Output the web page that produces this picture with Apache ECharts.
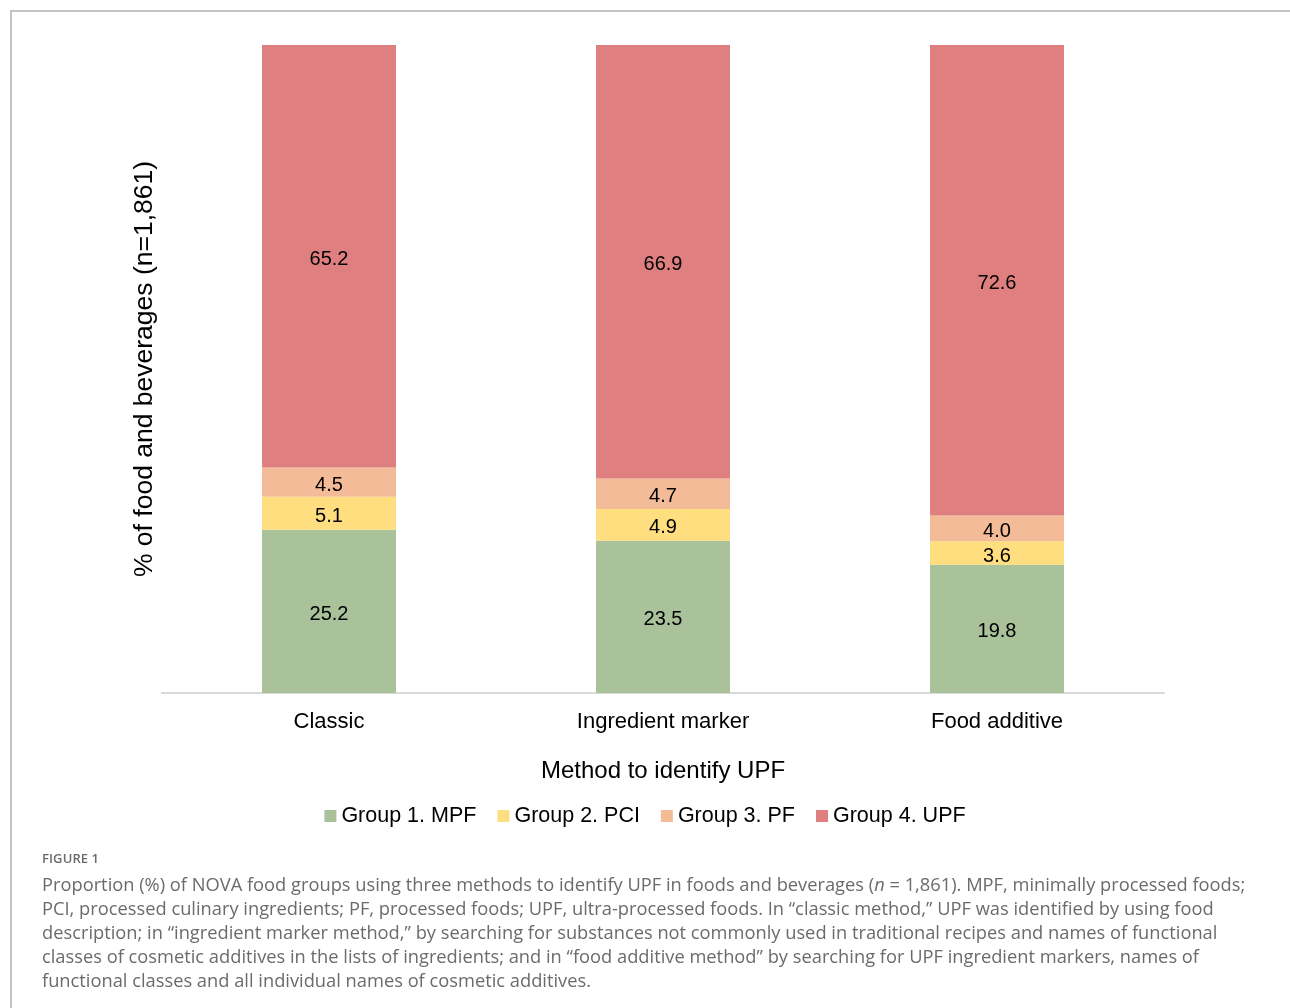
<!DOCTYPE html>
<html>
<head>
<meta charset="utf-8">
<script src="https://cdn.jsdelivr.net/npm/echarts@6/dist/echarts.min.js"></script>
<style>
  html, body { margin: 0; padding: 0; background: #fff; }
  #frame { position: absolute; left: 10px; top: 10px; width: 1290px; height: 1010px;
           border-left: 2px solid #c4c4c4; border-top: 2px solid #c4c4c4; box-sizing: border-box; }
  #chart { position: absolute; left: 0; top: 0; width: 1290px; height: 1008px; }
  #caption { position: absolute; left: 42px; top: 848px; color: #6b6b6b;
             font-family: "Open Sans", sans-serif; }
  #caption .fig { font-size: 13px; font-weight: 600; letter-spacing: 0.1px; line-height: 20px; }
  #caption .txt { font-size: 18.3px; line-height: 24px; white-space: nowrap; margin-top: 4px; }
</style>
</head>
<body>
<div id="frame"></div>
<div id="chart"></div>
<div id="caption">
  <div class="fig">FIGURE 1</div>
  <div class="txt">
    Proportion (%) of NOVA food groups using three methods to identify UPF in foods and beverages (<i>n</i> = 1,861). MPF, minimally processed foods;<br>
    PCI, processed culinary ingredients; PF, processed foods; UPF, ultra-processed foods. In “classic method,” UPF was identified by using food<br>
    description; in “ingredient marker method,” by searching for substances not commonly used in traditional recipes and names of functional<br>
    classes of cosmetic additives in the lists of ingredients; and in “food additive method” by searching for UPF ingredient markers, names of<br>
    functional classes and all individual names of cosmetic additives.
  </div>
</div>
<script>
// Methods used to identify ultra-processed foods
const methods = ['Classic', 'Ingredient marker', 'Food additive'];

// Share (%) of each NOVA group per method
const group1MPF = [25.2, 23.5, 19.8];
const group2PCI = [5.1, 4.9, 3.6];
const group3PF  = [4.5, 4.7, 4.0];
const group4UPF = [65.2, 66.9, 72.6];

const seriesNames = ['Group 1. MPF', 'Group 2. PCI', 'Group 3. PF', 'Group 4. UPF'];
const seriesColors = ['#a9c29a', '#fede7f', '#f4bb98', '#e07f7f'];
const seriesData = [group1MPF, group2PCI, group3PF, group4UPF];

const chart = echarts.init(document.getElementById('chart'), null, { renderer: 'canvas' });
const font = 'Liberation Sans, Arial, sans-serif';

chart.setOption({
  animation: false,
  textStyle: { fontFamily: font },
  legend: {
    data: seriesNames,
    bottom: 176,
    left: 'center',
    icon: 'rect',
    itemWidth: 12,
    itemHeight: 12,
    itemGap: 21,
    textStyle: { fontSize: 21.5, color: '#000', fontFamily: font }
  },
  grid: { left: 162, right: 126, top: 45, bottom: 315, containLabel: false },
  xAxis: {
    type: 'category',
    data: methods,
    name: 'Method to identify UPF',
    nameLocation: 'middle',
    nameGap: 66,
    nameTextStyle: { fontSize: 24, color: '#000', fontFamily: font },
    axisLine: { show: true, lineStyle: { color: '#d9d9d9', width: 2 } },
    axisTick: { show: false },
    axisLabel: { fontSize: 22, color: '#000', margin: 18, fontFamily: font }
  },
  yAxis: {
    type: 'value',
    min: 0,
    max: 100,
    name: '% of food and beverages (n=1,861)',
    nameLocation: 'middle',
    nameRotate: 90,
    nameGap: 4,
    nameTextStyle: { fontSize: 26.5, color: '#000', fontFamily: font },
    axisLine: { show: false },
    axisTick: { show: false },
    axisLabel: { show: false },
    splitLine: { show: false }
  },
  series: seriesNames.map((name, i) => ({
    name: name,
    type: 'bar',
    stack: 'total',
    barWidth: 134,
    data: seriesData[i],
    itemStyle: { color: seriesColors[i] },
    label: {
      show: true,
      position: 'inside',
      offset: [0, 3],
      fontSize: 20,
      color: '#000',
      fontFamily: font,
      formatter: p => p.value.toFixed(1)
    }
  }))
});
</script>
</body>
</html>
